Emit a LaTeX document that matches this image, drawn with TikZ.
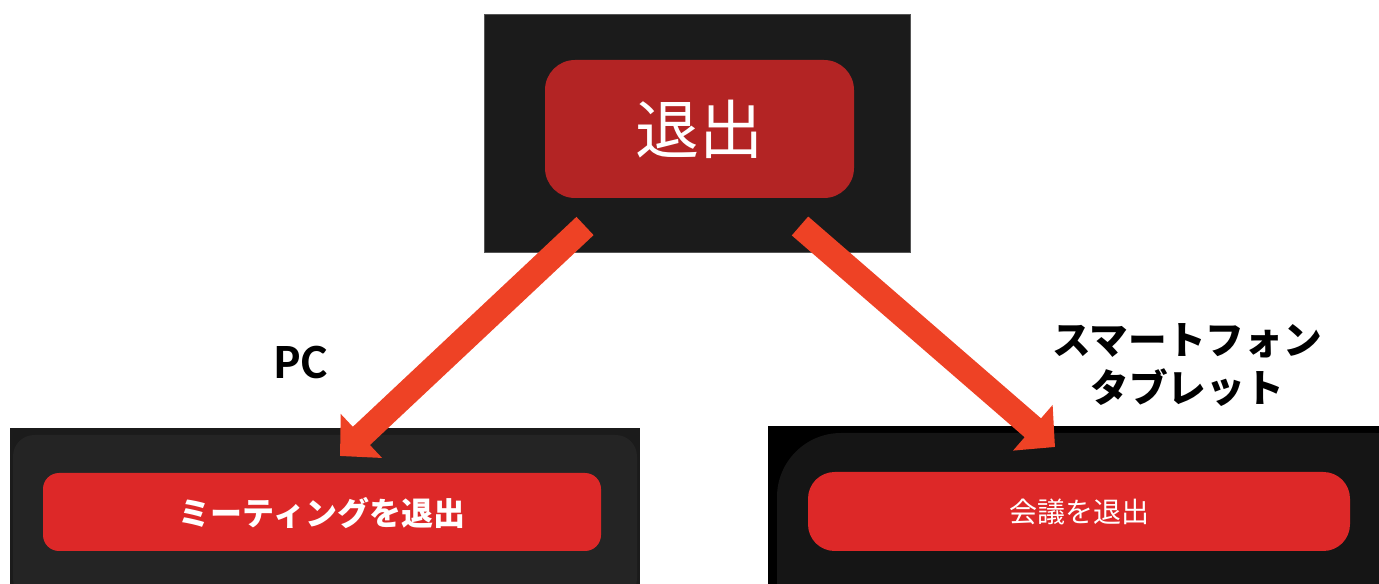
\documentclass[tikz,border=0pt]{standalone}
\usepackage{fontspec}
\setmainfont{Carlito}
\newfontfamily\jpfont{Noto Sans CJK JP}
\usetikzlibrary{arrows.meta}

\definecolor{panelblack}{RGB}{27,27,27}
\definecolor{pcpanel}{RGB}{36,36,36}
\definecolor{phonepanel}{RGB}{21,21,21}
\definecolor{exitred}{RGB}{179,36,36}
\definecolor{btnred}{RGB}{221,40,40}
\definecolor{arrowred}{RGB}{238,66,37}

\tikzset{every picture/.style={line width=0.75pt}}
\tikzset{
  pointer/.style={draw=arrowred, line width=18.75pt,
    -{Triangle[length=22pt,width=44pt]}},
  btntext/.style={text=white, inner sep=0.75pt},
  labeltext/.style={text=black, inner sep=0.75pt, align=center}
}

\begin{document}
\begin{tikzpicture}[x=0.75pt,y=0.75pt,yscale=-1,xscale=1]
\useasboundingbox (0,0) rectangle (1379,584);
\clip (0,0) rectangle (1379,584);

%Shape: Rectangle [top panel]
\draw [draw={rgb,255:red,85;green,85;blue,85}, line width=0.5pt, fill=panelblack] (484,14) rectangle (910,252);
%Shape: Rounded Rectangle [exit button]
\fill [exitred, rounded corners=22.5pt] (545,60) rectangle (854,198);

%Shape: Rectangle [pc panel]
\fill [panelblack] (10,428) rectangle (640,590);
\fill [pcpanel, rounded corners=16pt] (13,435) rectangle (637,600);
%Shape: Rounded Rectangle [pc button]
\fill [btnred, rounded corners=12pt] (43,473) rectangle (601,551);

%Shape: Rectangle [phone panel]
\fill [black] (768,426) rectangle (1379,590);
\fill [phonepanel, rounded corners=48pt] (777,433) rectangle (1440,700);
%Shape: Rounded Rectangle [phone button]
\fill [btnred, rounded corners=20pt] (808,472) rectangle (1350,551);

% Text Node
\node [btntext, font=\jpfont\fontsize{48}{52}\selectfont] (exitlabel) at (699.5,129) {退出};
% Text Node
\node [btntext, font=\jpfont\bfseries\fontsize{24}{28}\selectfont] (pclabel) at (322,513) {ミーティングを退出};
% Text Node
\node [btntext, font=\jpfont\fontsize{21}{24}\selectfont] (phonelabel) at (1079,512) {会議を退出};
% Text Node
\node [labeltext, font=\bfseries\fontsize{37}{40}\selectfont] (pc) at (301,362) {PC};
% Text Node
\node [labeltext, font=\jpfont\bfseries\fontsize{29}{36}\selectfont] (phone) at (1187,365) {スマートフォン\\タブレット};

% Arrows
\coordinate (pcstart) at (585,226);
\coordinate (pcend) at (340,456);
\coordinate (phonestart) at (800,226);
\coordinate (phoneend) at (1055,447);
\draw [pointer] (pcstart) -- (pcend);
\draw [pointer] (phonestart) -- (phoneend);

\end{tikzpicture}
\end{document}
